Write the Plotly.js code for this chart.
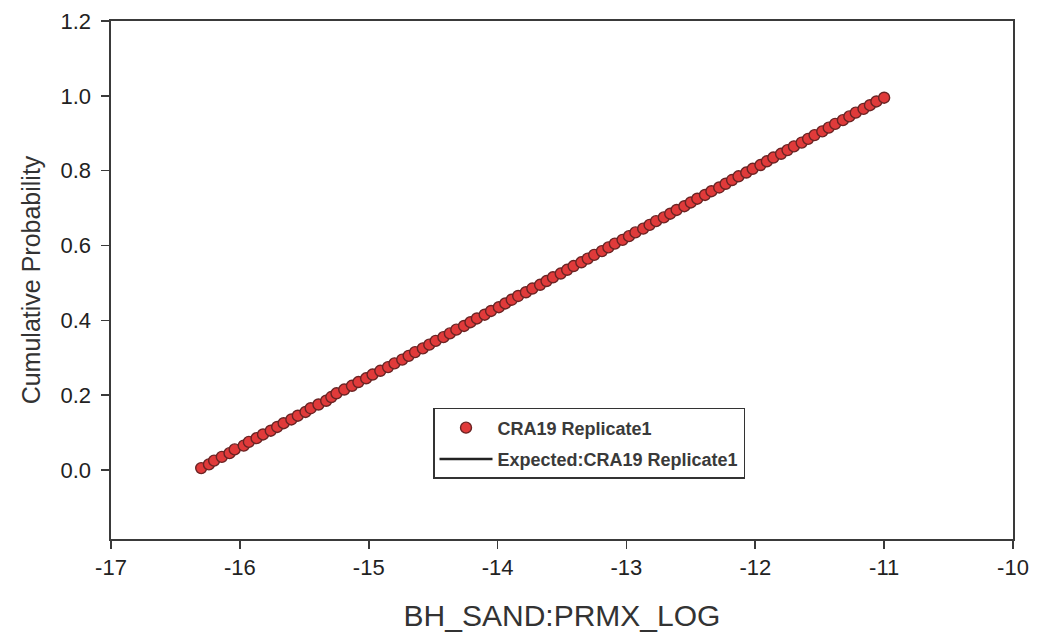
<!DOCTYPE html>
<html>
<head>
<meta charset="utf-8">
<script src="https://cdn.plot.ly/plotly-3.0.1.min.js"></script>
<style>html,body{margin:0;padding:0;background:#fff;}#chart{width:1037px;height:640px;}</style>
</head>
<body>
<div id="chart"></div>
<script>
const seriesName = "CRA19 Replicate1";
const expectedName = "Expected:CRA19 Replicate1";
const xTitle = "BH_SAND:PRMX_LOG";
const yTitle = "Cumulative Probability";

const sampleX = [
-16.30,-16.24,-16.20,-16.14,-16.08,-16.04,-15.97,-15.93,-15.87,-15.82,
-15.76,-15.71,-15.66,-15.60,-15.55,-15.49,-15.45,-15.39,-15.33,-15.29,
-15.25,-15.19,-15.13,-15.08,-15.02,-14.97,-14.91,-14.85,-14.80,-14.74,
-14.69,-14.64,-14.58,-14.53,-14.48,-14.42,-14.37,-14.32,-14.26,-14.21,
-14.16,-14.10,-14.05,-13.99,-13.94,-13.89,-13.84,-13.78,-13.73,-13.67,
-13.62,-13.57,-13.51,-13.46,-13.41,-13.35,-13.30,-13.25,-13.19,-13.14,
-13.09,-13.03,-12.98,-12.93,-12.87,-12.82,-12.77,-12.71,-12.66,-12.61,
-12.55,-12.50,-12.45,-12.39,-12.34,-12.28,-12.23,-12.18,-12.13,-12.07,
-12.02,-11.96,-11.91,-11.86,-11.80,-11.75,-11.70,-11.64,-11.59,-11.54,
-11.48,-11.43,-11.38,-11.32,-11.27,-11.22,-11.16,-11.11,-11.06,-11.00
];
const sampleY = [
0.005,0.015,0.025,0.035,0.045,0.055,0.065,0.075,0.085,0.095,
0.105,0.115,0.125,0.135,0.145,0.155,0.165,0.175,0.185,0.195,
0.205,0.215,0.225,0.235,0.245,0.255,0.265,0.275,0.285,0.295,
0.305,0.315,0.325,0.335,0.345,0.355,0.365,0.375,0.385,0.395,
0.405,0.415,0.425,0.435,0.445,0.455,0.465,0.475,0.485,0.495,
0.505,0.515,0.525,0.535,0.545,0.555,0.565,0.575,0.585,0.595,
0.605,0.615,0.625,0.635,0.645,0.655,0.665,0.675,0.685,0.695,
0.705,0.715,0.725,0.735,0.745,0.755,0.765,0.775,0.785,0.795,
0.805,0.815,0.825,0.835,0.845,0.855,0.865,0.875,0.885,0.895,
0.905,0.915,0.925,0.935,0.945,0.955,0.965,0.975,0.985,0.995
];
const expectedX = [-16.30, -11.00];
const expectedY = [0.0, 1.0];

const xTicks = [-17,-16,-15,-14,-13,-12,-11,-10];
const yTicks = [0.0,0.2,0.4,0.6,0.8,1.0,1.2];

const lineTrace = {
  x: expectedX, y: expectedY, type: 'scatter', mode: 'lines', name: expectedName,
  line: {color: '#222222', width: 2.5}, legendrank: 2, legendgroup: 'b'
};
const pointTrace = {
  x: sampleX, y: sampleY, type: 'scatter', mode: 'markers', name: seriesName,
  marker: {size: 11, color: '#e03a3a', line: {color: '#6a2424', width: 1.4}},
  legendrank: 1, legendgroup: 'a'
};

const layout = {
  width: 1037, height: 640,
  margin: {l: 111, r: 24, t: 21, b: 101},
  paper_bgcolor: '#ffffff', plot_bgcolor: '#ffffff',
  font: {family: 'Liberation Sans, Arial, sans-serif', color: '#222'},
  showlegend: true,
  legend: {
    x: 0.357, y: 0.253, xanchor: 'left', yanchor: 'top',
    bgcolor: '#ffffff', bordercolor: '#333', borderwidth: 1.5,
    font: {family: 'Liberation Sans, Arial, sans-serif', size: 18, color: '#3a3a3a', weight: 'bold'},
    itemwidth: 53, traceorder: 'grouped', tracegroupgap: 5
  },
  xaxis: {
    range: [-17, -10], tickvals: xTicks, ticktext: xTicks.map(String),
    showgrid: false, zeroline: false, showline: true, linecolor: '#3a3a3a', linewidth: 1.6,
    mirror: true, ticks: 'outside', ticklen: 8, tickwidth: 1.6, tickcolor: '#3a3a3a',
    tickfont: {size: 22, color: '#222'},
    title: {text: xTitle, font: {size: 30, color: '#333'}, standoff: 26}
  },
  yaxis: {
    range: [-0.1845, 1.2], tickvals: yTicks, ticktext: yTicks.map(v => v.toFixed(1)),
    showgrid: false, zeroline: false, showline: true, linecolor: '#3a3a3a', linewidth: 1.6,
    mirror: true, ticks: 'outside', ticklen: 8, tickwidth: 1.6, tickcolor: '#3a3a3a',
    ticklabelstandoff: 6,
    tickfont: {size: 22, color: '#222'},
    title: {text: yTitle, font: {size: 25, color: '#333'}, standoff: 12}
  }
};
Plotly.newPlot('chart', [lineTrace, pointTrace], layout, {displayModeBar: false, staticPlot: true});
</script>
</body>
</html>
